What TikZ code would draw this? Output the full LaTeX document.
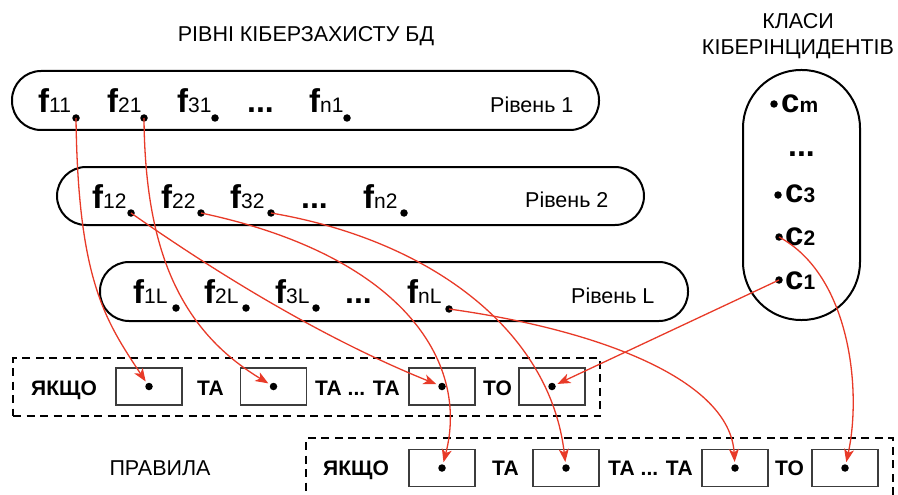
\documentclass[tikz,border=0pt]{standalone}
\usepackage{fontspec}
\setmainfont{Liberation Sans}
\usetikzlibrary{arrows.meta}
\definecolor{linkred}{RGB}{232,58,40}
\definecolor{boxgray}{RGB}{60,60,60}
\newcommand\fsub[2]{{\fontsize{33}{36}\selectfont\bfseries #1}{\fontsize{21}{24}\selectfont #2}}
\newcommand\csub[2]{{\fontsize{33}{36}\selectfont\bfseries #1}{\fontsize{21}{24}\selectfont\bfseries #2}}
\begin{document}
\begin{tikzpicture}[x=1pt,y=1pt,
  txt/.style={inner sep=0pt, font=\fontsize{21.5}{26}\selectfont},
  rtxt/.style={inner sep=0pt, font=\fontsize{21}{25}\selectfont\bfseries},
  big/.style={inner sep=0pt, font=\fontsize{32}{36}\selectfont\bfseries},
  lab/.style={inner sep=0pt, anchor=base west},
  tier/.style={draw, line width=2pt, rounded corners=29pt, minimum height=59pt, inner sep=0pt},
  rulebox/.style={draw, line width=2.2pt, dash pattern=on 8pt off 5.5pt, inner sep=0pt},
  slot/.style={draw=boxgray, line width=1.4pt, minimum width=66pt, minimum height=37pt, inner sep=0pt},
  pdot/.style={circle, fill=black, inner sep=0pt, minimum size=7.5pt},
  link/.style={draw=linkred, line width=1.3pt, -{Stealth[length=13pt,width=10pt,inset=3.5pt]}, shorten >=6pt}]
\useasboundingbox (0,0) rectangle (898,-495);

% titles
\node[txt, anchor=base] (t1) at (306,-42) {РІВНІ КІБЕРЗАХИСТУ БД};
\node[txt, anchor=base, align=center] (t2) at (798,-55) {КЛАСИ\\КІБЕРІНЦИДЕНТІВ};
\node[txt, anchor=base] (t3) at (160,-475) {ПРАВИЛА};

% levels
\node[tier, minimum width=587pt] (lev1) at (305.5,-100.5) {};
\node[tier, minimum width=587pt, minimum height=58pt] (lev2) at (350.5,-196) {};
\node[tier, minimum width=588pt] (levL) at (394,-291.5) {};

\node[txt, lab] (n1) at (490,-113) {Рівень 1};
\node[txt, lab] (n2) at (525,-207) {Рівень 2};
\node[txt, lab] (nL) at (571,-303) {Рівень L};

% level 1
\node[lab] (f11) at (38,-113) {\fsub{f}{11}};
\node[lab] (f21) at (107,-113) {\fsub{f}{21}};
\node[lab] (f31) at (177,-113) {\fsub{f}{31}};
\node[big, lab] (e1) at (247,-113) {...};
\node[lab] (fn1) at (309,-113) {\fsub{f}{n1}};
\node[pdot] (p11) at (76,-118) {};
\node[pdot] (p21) at (144,-118) {};
\node[pdot] (p31) at (215,-118) {};
\node[pdot] (pn1) at (347,-118) {};

% level 2
\node[lab] (f12) at (92,-208) {\fsub{f}{12}};
\node[lab] (f22) at (161,-208) {\fsub{f}{22}};
\node[lab] (f32) at (230,-208) {\fsub{f}{32}};
\node[big, lab] (e2) at (301,-208) {...};
\node[lab] (fn2) at (363,-208) {\fsub{f}{n2}};
\node[pdot] (p12) at (131,-213) {};
\node[pdot] (p22) at (201,-213) {};
\node[pdot] (p32) at (271,-213) {};
\node[pdot] (pn2) at (404,-213) {};

% level L
\node[lab] (f1L) at (133,-303) {\fsub{f}{1L}};
\node[lab] (f2L) at (204,-303) {\fsub{f}{2L}};
\node[lab] (f3L) at (275,-303) {\fsub{f}{3L}};
\node[big, lab] (eL) at (345,-303) {...};
\node[lab] (fnL) at (407,-303) {\fsub{f}{nL}};
\node[pdot] (p1L) at (176,-308) {};
\node[pdot] (p2L) at (246,-308) {};
\node[pdot] (p3L) at (316,-308) {};
\node[pdot] (pnL) at (449,-309) {};

% classes
\node[draw, line width=2pt, rounded corners=58pt, minimum width=117pt, minimum height=250pt, inner sep=0pt] (cls) at (801.5,-195) {};
\node[pdot] (cm) at (774,-104) {};
\node[lab] (tcm) at (781,-113) {\csub{c}{m}};
\node[big, lab] (ec) at (788,-157) {...};
\node[pdot] (c3) at (778,-195) {};
\node[lab] (tc3) at (785,-202) {\csub{c}{3}};
\node[pdot] (c2) at (779,-237) {};
\node[lab] (tc2) at (785,-245) {\csub{c}{2}};
\node[pdot] (c1) at (779,-280) {};
\node[lab] (tc1) at (785,-289) {\csub{c}{1}};

% rule 1
\node[rulebox, minimum width=587pt, minimum height=58pt] (rule1) at (306.5,-387) {};
\node[rtxt, lab] (r1w1) at (31,-395) {ЯКЩО};
\node[slot] (s11) at (149,-386.5) {};
\node[rtxt, lab] (r1w2) at (197,-395) {ТА};
\node[slot] (s12) at (273.5,-386.5) {};
\node[rtxt, lab] (r1w3) at (315,-395) {ТА ... ТА};
\node[slot] (s13) at (442,-386.5) {};
\node[rtxt, lab] (r1w4) at (483,-395) {ТО};
\node[slot] (s14) at (552,-386.5) {};
\node[pdot] (q11) at (s11.center) {};
\node[pdot] (q12) at (s12.center) {};
\node[pdot] (q13) at (s13.center) {};
\node[pdot] (q14) at (s14.center) {};

% rule 2
\node[rulebox, minimum width=587pt, minimum height=64pt] (rule2) at (599.5,-470) {};
\node[rtxt, lab] (r2w1) at (323,-475) {ЯКЩО};
\node[slot] (s21) at (442,-468) {};
\node[rtxt, lab] (r2w2) at (492,-475) {ТА};
\node[slot] (s22) at (566,-468) {};
\node[rtxt, lab] (r2w3) at (608,-475) {ТА ... ТА};
\node[slot] (s23) at (735,-468) {};
\node[rtxt, lab] (r2w4) at (775,-475) {ТО};
\node[slot] (s24) at (845,-468) {};
\node[pdot] (q21) at (s21.center) {};
\node[pdot] (q22) at (s22.center) {};
\node[pdot] (q23) at (s23.center) {};
\node[pdot] (q24) at (s24.center) {};

% links
\draw[link] (p11.center) .. controls (78,-280) and (105,-320) .. (q11.center);
\draw[link] (p21.center) .. controls (145,-250) and (180,-330) .. (q12.center);
\draw[link] (p12.center) .. controls (231,-283) and (332,-342) .. (q13.center);
\draw[link] (p22.center) .. controls (400,-255) and (470,-360) .. (q21.center);
\draw[link] (p32.center) .. controls (430,-240) and (550,-330) .. (q22.center);
\draw[link] (pnL.center) .. controls (600,-330) and (730,-380) .. (q23.center);
\draw[link] (c1.center) -- (q14.center);
\draw[link] (c2.center) .. controls (850,-275) and (862,-390) .. (q24.center);
\end{tikzpicture}
\end{document}
